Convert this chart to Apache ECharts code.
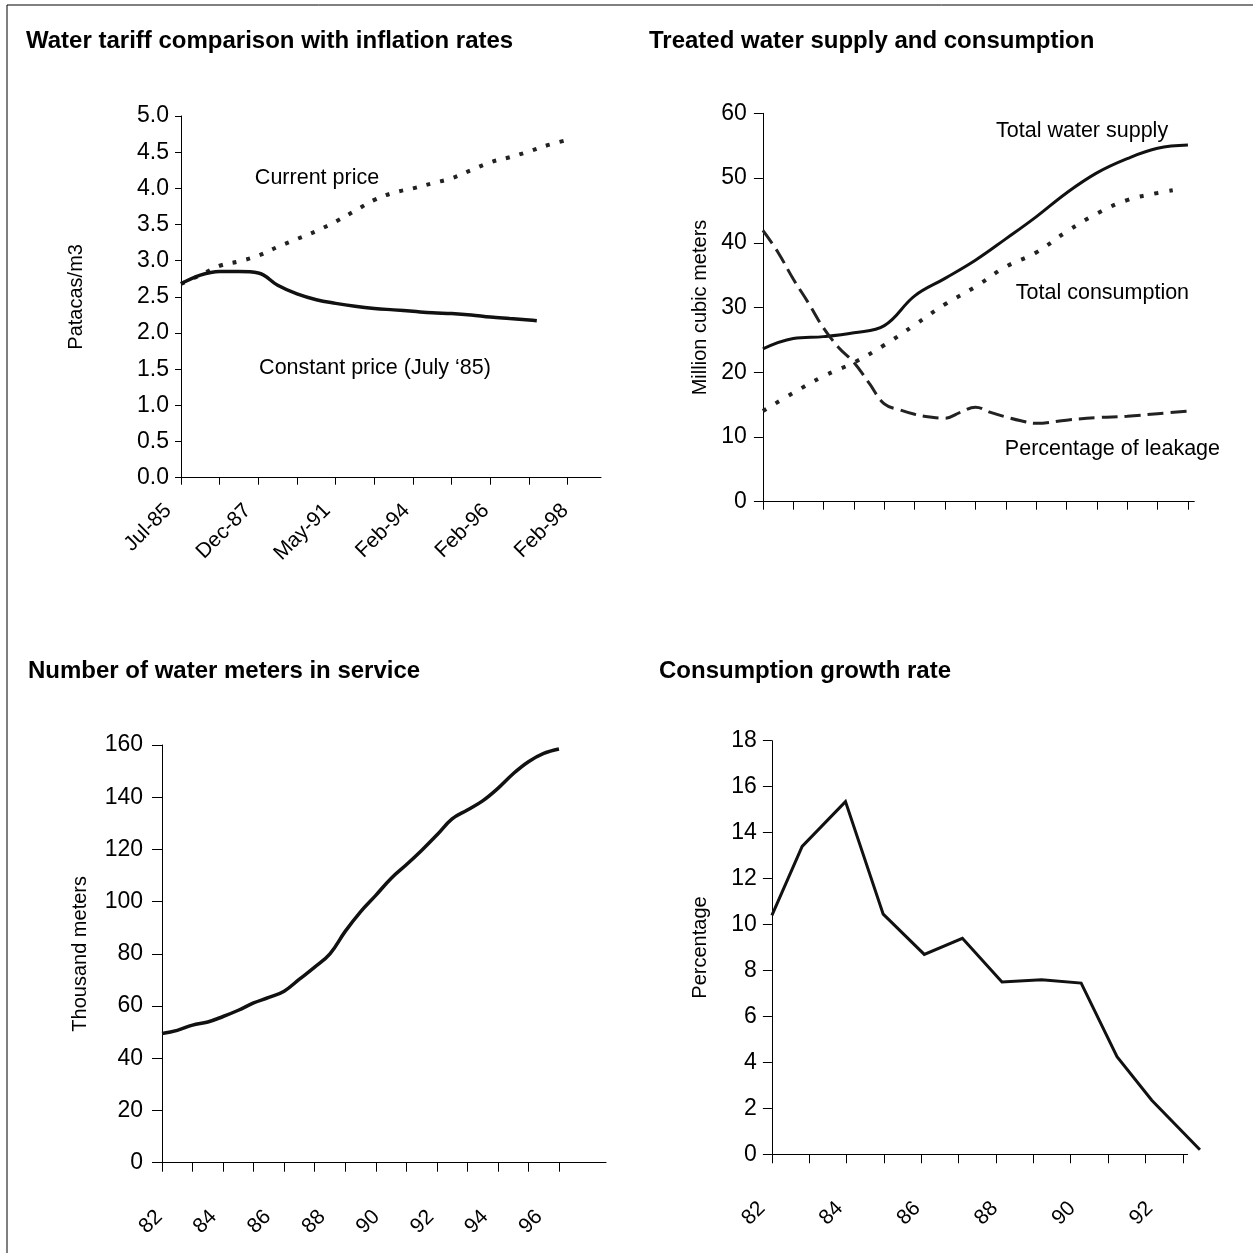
<!DOCTYPE html>
<html><head><meta charset="utf-8">
<script src="https://cdn.jsdelivr.net/npm/echarts@6/dist/echarts.min.js"></script>
<style>html,body{margin:0;padding:0;background:#fff}#c{width:1253px;height:1253px}</style>
</head><body><div id="c"></div>
<script>
const FONT = '"Liberation Sans", Arial, Helvetica, sans-serif';

// ---- Chart 1: Water tariff comparison with inflation rates ----
const tariffTickLabels = ['Jul-85', 'Dec-87', 'May-91', 'Feb-94', 'Feb-96', 'Feb-98'];
const currentX = [0, 0.5, 1, 1.5, 2, 2.5, 3, 3.5, 4, 4.5, 5, 5.5, 6, 6.5, 7, 7.5, 8, 8.5, 9, 9.5, 10];
const currentPrice = [2.68, 2.80, 2.93, 2.99, 3.07, 3.19, 3.30, 3.41, 3.54, 3.69, 3.84, 3.94, 4.00, 4.07, 4.14, 4.25, 4.36, 4.43, 4.51, 4.60, 4.67];
const constantX = [0, 0.5, 1, 1.5, 2, 2.5, 3, 3.5, 4, 4.5, 5, 5.5, 6, 6.5, 7, 7.5, 8, 8.5, 9, 9.2];
const constantPrice = [2.68, 2.80, 2.85, 2.85, 2.83, 2.66, 2.54, 2.46, 2.41, 2.37, 2.34, 2.32, 2.30, 2.28, 2.27, 2.25, 2.22, 2.20, 2.18, 2.17];

// ---- Chart 2: Treated water supply and consumption ----
const supplyX = [0, 1, 2, 3, 4, 5, 6, 7, 8, 9, 10, 11, 12, 13, 14];
const totalSupply = [23.6, 25.2, 25.5, 26.1, 27.2, 31.8, 34.5, 37.3, 40.6, 44.0, 47.7, 50.8, 53.0, 54.6, 55.1];
const consumptionX = [0, 1, 2, 3, 4, 5, 6, 7, 8, 9, 10, 11, 12, 13, 13.5];
const totalConsumption = [14.0, 16.8, 19.4, 21.5, 24.2, 27.3, 30.5, 33.2, 36.3, 38.5, 41.7, 44.5, 46.6, 47.7, 48.1];
const leakageX = [0, 0.5, 1, 1.5, 2, 2.5, 3, 3.5, 4, 4.5, 5, 5.5, 6, 6.5, 7, 7.5, 8, 8.5, 9, 10, 11, 12, 13, 14];
const leakagePct = [41.9, 38.5, 34.4, 30.7, 26.8, 23.8, 21.5, 18.3, 15.1, 14.2, 13.5, 13.1, 12.9, 13.8, 14.6, 13.8, 13.1, 12.5, 12.1, 12.6, 13.0, 13.2, 13.6, 14.0];

// ---- Chart 3: Number of water meters in service ----
const meterYearLabels = ['82', '84', '86', '88', '90', '92', '94', '96'];
const metersX = [0, 0.5, 1, 1.5, 2, 2.5, 3, 3.5, 4, 4.5, 5, 5.5, 6, 6.5, 7, 7.5, 8, 8.5, 9, 9.5, 10, 10.5, 11, 11.5, 12, 12.5, 13];
const metersThousand = [49.5, 50.7, 52.7, 53.9, 56.0, 58.4, 61.2, 63.3, 65.7, 70.3, 74.9, 80.0, 88.6, 96.1, 102.4, 108.9, 114.1, 119.6, 125.5, 131.7, 135.1, 138.6, 143.4, 149.0, 153.6, 156.8, 158.5];

// ---- Chart 4: Consumption growth rate ----
const growthYearLabels = ['82', '84', '86', '88', '90', '92'];
const growthX = [0, 0.81, 1.97, 2.98, 4.08, 5.10, 6.16, 7.22, 8.28, 9.24, 10.17, 11.46];
const growthPct = [10.4, 13.4, 15.35, 10.45, 8.7, 9.4, 7.5, 7.6, 7.45, 4.25, 2.35, 0.2];

// tick / label positions (in axis units)
const tariffTicks = [0, 1, 2, 3, 4, 5, 6, 7, 8, 9, 10];
const tariffLabelPos = [0, 2.053, 4.106, 6.159, 8.212, 10.265];
const supplyTicks = [0, 1, 2, 3, 4, 5, 6, 7, 8, 9, 10, 11, 12, 13, 14];
const meterTicks = [0, 1, 2, 3, 4, 5, 6, 7, 8, 9, 10, 11, 12, 13];
const meterLabelPos = [0, 1.778, 3.556, 5.334, 7.112, 8.89, 10.668, 12.446];
const growthTicks = [0, 1, 2, 3, 4, 5, 6, 7, 8, 9, 10, 11];
const growthLabelPos = [0, 2.076, 4.152, 6.228, 8.304, 10.38];
const growthAxisEnd = 11.14;

const zip = (xs, ys) => xs.map((x, i) => [x, ys[i]]);
const BLACK = '#000';

function xAxis(gi, max, ticks, tickLen, labelPos, labels, margin, pad, showLine) {
  return {
    type: 'value', gridIndex: gi, min: 0, max: max,
    axisLine: { show: showLine !== false, onZero: false, lineStyle: { color: BLACK, width: 1 } },
    axisTick: { show: true, customValues: ticks, length: tickLen, lineStyle: { color: BLACK, width: 1 } },
    axisLabel: labels ? {
      show: true, customValues: labelPos, rotate: 45, margin: margin,
      padding: [0, pad, 0, 0],
      fontSize: 21, fontFamily: FONT, color: BLACK,
      formatter: function (v) {
        let best = 0, d = 1e9;
        labelPos.forEach((p, i) => { if (Math.abs(p - v) < d) { d = Math.abs(p - v); best = i; } });
        return labels[best];
      }
    } : { show: false },
    splitLine: { show: false }
  };
}
function yAxis(gi, max, interval, tickLen, margin, name, nameGap, dec) {
  return {
    type: 'value', gridIndex: gi, min: 0, max: max, interval: interval,
    name: name, nameLocation: 'middle', nameGap: nameGap,
    nameTextStyle: { fontSize: 20, fontFamily: FONT, color: BLACK },
    axisLine: { show: true, lineStyle: { color: BLACK, width: 1 } },
    axisTick: { show: true, length: tickLen, lineStyle: { color: BLACK, width: 1 } },
    axisLabel: { fontSize: 23, fontFamily: FONT, color: BLACK, margin: margin,
      formatter: v => v.toFixed(dec) },
    splitLine: { show: false }
  };
}
function note(text, coord) {
  return {
    symbol: 'circle', symbolSize: 0, silent: true,
    data: [{ coord: coord, label: { show: true, position: 'right', distance: 0, formatter: text,
      fontSize: 21.5, fontFamily: FONT, color: BLACK } }]
  };
}
function lineSeries(xi, data, style, smooth, extra) {
  return Object.assign({
    type: 'line', xAxisIndex: xi, yAxisIndex: xi, data: data, smooth: smooth,
    showSymbol: false, symbol: 'none', animation: false,
    lineStyle: Object.assign({ color: '#111', width: 3 }, style)
  }, extra || {});
}

const titleStyle = { fontSize: 24, fontWeight: 'bold', fontFamily: FONT, color: BLACK };
const chart = echarts.init(document.getElementById('c'), null, { renderer: 'canvas' });
chart.setOption({
  backgroundColor: '#fff',
  animation: false,
  title: [
    { text: 'Water tariff comparison with inflation rates', left: 26, top: 29, padding: 0, textStyle: titleStyle },
    { text: 'Treated water supply and consumption', left: 649, top: 29, padding: 0, textStyle: titleStyle },
    { text: 'Number of water meters in service', left: 28, top: 659, padding: 0, textStyle: titleStyle },
    { text: 'Consumption growth rate', left: 659, top: 659, padding: 0, textStyle: titleStyle }
  ],
  graphic: [
    { type: 'line', shape: { x1: 7, y1: 5, x2: 1253, y2: 5 }, style: { stroke: BLACK, lineWidth: 1 } },
    { type: 'line', shape: { x1: 7, y1: 5, x2: 7, y2: 1253 }, style: { stroke: BLACK, lineWidth: 1 } }
  ],
  grid: [
    { left: 181, top: 116, width: 420, height: 361.7 },
    { left: 762.9, top: 113.3, width: 431.4, height: 388.4 },
    { left: 162, top: 745, width: 444, height: 417.7 },
    { left: 771.9, top: 740.7, width: 11.6 * 37.35, height: 413.6 }
  ],
  xAxis: [
    xAxis(0, 10.86, tariffTicks, 7, tariffLabelPos, tariffTickLabels, 17, 18),
    xAxis(1, 14.21, supplyTicks, 8, null, null, 0, 0),
    xAxis(2, 14.54, meterTicks, 9, meterLabelPos, meterYearLabels, 48, 4),
    xAxis(3, 11.6, growthTicks, 9, growthLabelPos, growthYearLabels, 41, 14, false)
  ],
  yAxis: [
    yAxis(0, 5, 0.5, 6, 12, 'Patacas/m3', 95, 1),
    yAxis(1, 60, 10, 9, 16, 'Million cubic meters', 52, 0),
    yAxis(2, 160, 20, 10, 19, 'Thousand meters', 72, 0),
    yAxis(3, 18, 2, 9, 15, 'Percentage', 61, 0)
  ],
  series: [
    lineSeries(0, zip(currentX, currentPrice), { width: 4, type: [4, 10], color: '#222', cap: 'butt' }, 0.4,
      { markPoint: note('Current price', [1.91, 4.14]) }),
    lineSeries(0, zip(constantX, constantPrice), { width: 3.5 }, 0.4,
      { markPoint: note('Constant price (July \u201885)', [2.02, 1.51]) }),
    lineSeries(1, zip(supplyX, totalSupply), { width: 3 }, 0.4,
      { markPoint: note('Total water supply', [7.68, 57.2]) }),
    lineSeries(1, zip(consumptionX, totalConsumption), { width: 4, type: [4, 11], color: '#222', cap: 'butt' }, 0.4,
      { markPoint: note('Total consumption', [8.33, 32.2]) }),
    lineSeries(1, zip(leakageX, leakagePct), { width: 3, type: [16, 7], color: '#222' }, 0.4,
      { markPoint: note('Percentage of leakage', [7.97, 8.1]) }),
    lineSeries(2, zip(metersX, metersThousand), { width: 3.5 }, 0.4),
    lineSeries(3, zip(growthX, growthPct), { width: 3, join: 'miter' }, false, {
      z: 3,
      markLine: {
        silent: true, symbol: ['none', 'none'], animation: false, z: 1,
        label: { show: false },
        lineStyle: { color: BLACK, width: 1, type: 'solid' },
        data: [[{ coord: [0, 0] }, { coord: [growthAxisEnd, 0] }]]
      }
    })
  ]
});
</script></body></html>
